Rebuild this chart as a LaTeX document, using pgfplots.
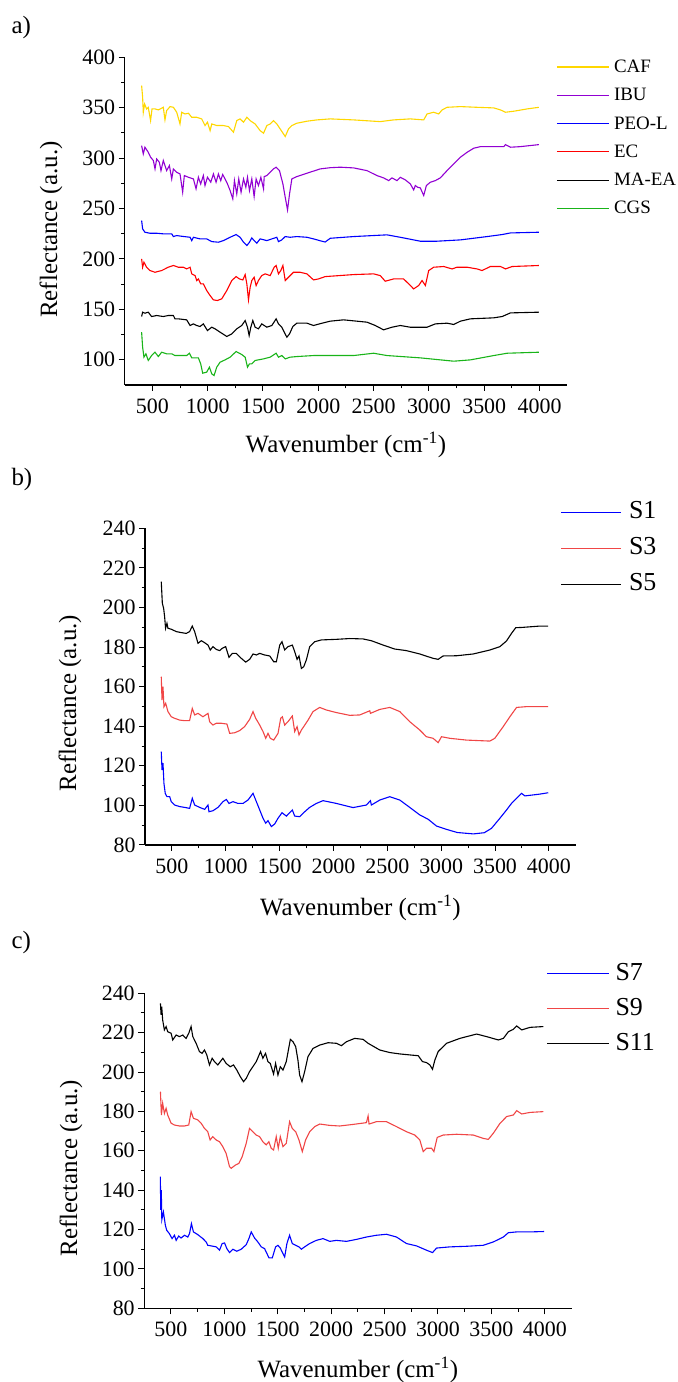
\documentclass[border=0pt]{standalone}
\usepackage{fontspec}
\setmainfont{Liberation Serif}
\usepackage{pgfplots}
\pgfplotsset{compat=1.18}
\definecolor{cafc}{RGB}{255,215,0}
\definecolor{ibuc}{RGB}{145,0,210}
\definecolor{peoc}{RGB}{0,0,255}
\definecolor{ecc}{RGB}{255,0,0}
\definecolor{cgsc}{RGB}{25,180,25}
\definecolor{lred}{RGB}{240,70,70}
\pgfplotsset{
  spec/.style={
    scale only axis,
    axis x line*=bottom, axis y line*=left,
    axis line style={-, line width=1.2bp, black},
    tick align=outside,
    tick style={black, line width=1bp},
    major tick length=6bp, minor tick length=3.5bp,
    xmin=250, xmax=4250, enlargelimits=false,
    xtick={500,1000,...,4000},
    minor x tick num=1, minor y tick num=1,
    tick label style={font=\fontsize{22}{22}\selectfont},
    xticklabel style={yshift=-4bp},
    /pgf/number format/assume math mode=true,
    /pgf/number format/1000 sep={},
    xlabel={Wavenumber (cm\textsuperscript{-1})},
    ylabel={Reflectance (a.u.)},
    label style={font=\fontsize{25}{25}\selectfont},
    legend cell align=left,
    every axis plot/.append style={line width=1.1bp},
  }
}
\begin{document}
\begin{tikzpicture}
\useasboundingbox (0,0) rectangle (678bp,1382bp);
\node[anchor=west, font=\fontsize{25}{25}\selectfont] at (8bp,1354bp) {a)};
\node[anchor=west, font=\fontsize{25}{25}\selectfont] at (8bp,902bp) {b)};
\node[anchor=west, font=\fontsize{25}{25}\selectfont] at (8bp,439.5bp) {c)};

% ---------------- panel a
\begin{axis}[spec, at={(124.7bp,997bp)}, anchor=south west,
  width=442.5bp, height=327.7bp, ymin=75, ymax=400,
  ytick={100,150,...,400},
  xlabel style={at={(axis description cs:0.5,-0.183)}, anchor=center},
  ylabel style={at={(axis description cs:-0.1666,0.474)}, anchor=center},
  legend style={at={(axis description cs:0.975,1.0)}, anchor=north west,
    draw=none, fill=none, inner sep=0pt, row sep=9.3bp, column sep=4.6bp,
    font=\fontsize{19}{19}\selectfont,
    nodes={inner sep=0pt, text height=15bp, text depth=4bp}},
  legend image code/.code={\draw[#1] (0bp,0bp) -- (52bp,0bp);},
]
\addplot[cafc] coordinates {(403,372.0)(412,360.4)(418,345.5)(430,353.7)(448,348.8)(463,350.4)(484,337.2)(497,348.8)(524,348.8)(554,347.8)(599,350.4)(614,337.9)(629,347.1)(660,351.1)(690,350.4)(720,345.5)(750,333.9)(765,345.5)(795,343.8)(826,344.5)(856,340.5)(901,340.5)(946,338.9)(976,332.3)(998,335.6)(1022,327.3)(1037,333.9)(1082,332.3)(1142,332.3)(1188,331.3)(1233,325.7)(1263,337.2)(1293,338.9)(1324,335.6)(1354,340.5)(1384,337.2)(1429,333.9)(1474,327.3)(1505,324.7)(1535,332.3)(1565,333.9)(1595,337.2)(1625,333.9)(1655,329.0)(1701,321.4)(1731,329.0)(1761,332.3)(1806,334.6)(1897,336.6)(1987,337.9)(2108,338.9)(2319,337.9)(2560,336.2)(2681,337.9)(2832,338.9)(2953,337.9)(2983,343.8)(3043,345.5)(3088,343.8)(3119,347.8)(3164,350.4)(3285,351.1)(3435,350.4)(3586,349.8)(3647,347.8)(3692,345.5)(3767,346.5)(3888,348.8)(3994,350.4)};
\addlegendentry{CAF}
\addplot[ibuc] coordinates {(403,312.4)(418,304.2)(433,310.8)(463,305.8)(484,300.9)(509,297.6)(524,289.3)(539,299.2)(563,295.9)(578,287.6)(599,297.6)(629,287.6)(654,292.6)(675,279.4)(690,289.3)(720,286.0)(750,284.3)(774,266.2)(789,282.7)(826,281.0)(871,279.4)(895,269.5)(916,281.0)(937,274.4)(961,282.7)(976,272.8)(998,281.0)(1028,276.1)(1052,284.3)(1076,276.1)(1097,284.3)(1118,277.7)(1136,283.7)(1157,279.4)(1179,274.4)(1203,267.8)(1227,259.6)(1242,277.7)(1263,264.5)(1281,279.4)(1302,266.2)(1324,279.4)(1345,271.1)(1360,281.0)(1378,267.8)(1399,279.4)(1420,261.9)(1438,279.4)(1459,272.8)(1481,281.0)(1505,269.5)(1511,281.7)(1535,282.7)(1565,286.0)(1595,289.3)(1619,291.0)(1649,287.6)(1680,274.4)(1701,261.2)(1722,248.6)(1740,264.5)(1761,279.4)(1806,281.7)(1897,285.0)(2017,289.3)(2108,290.5)(2198,291.0)(2319,290.3)(2440,287.6)(2530,282.7)(2590,280.4)(2636,277.7)(2666,280.4)(2711,277.7)(2741,281.0)(2787,278.4)(2832,274.4)(2862,268.5)(2877,272.8)(2898,271.1)(2922,270.5)(2953,262.9)(2977,272.8)(3013,276.1)(3058,277.7)(3103,280.4)(3164,287.6)(3224,294.3)(3285,300.9)(3345,305.8)(3405,309.8)(3466,311.4)(3586,311.4)(3677,311.4)(3692,313.4)(3737,310.8)(3828,311.4)(3994,313.4)};
\addlegendentry{IBU}
\addplot[peoc] coordinates {(403,238.1)(412,229.8)(433,226.5)(478,225.5)(539,225.5)(599,224.9)(675,224.9)(690,222.2)(720,223.2)(765,222.5)(841,221.5)(856,218.2)(871,221.5)(931,219.9)(991,219.9)(1037,217.2)(1097,216.6)(1142,218.2)(1203,221.5)(1257,224.2)(1293,221.5)(1324,216.6)(1354,213.3)(1378,216.6)(1399,220.9)(1420,218.2)(1444,215.6)(1474,219.9)(1535,218.2)(1580,219.9)(1625,221.5)(1640,217.2)(1670,218.9)(1701,222.2)(1746,221.5)(1806,222.2)(1897,221.5)(1957,219.9)(2032,217.6)(2062,216.8)(2108,220.5)(2319,222.2)(2621,223.9)(2741,221.5)(2922,217.6)(3073,217.6)(3285,218.9)(3526,222.2)(3662,224.2)(3737,225.8)(3994,226.5)};
\addlegendentry{PEO-L}
\addplot[ecc] coordinates {(403,200.1)(412,191.8)(424,196.8)(448,191.8)(478,188.5)(524,186.8)(584,188.5)(644,191.8)(690,193.5)(735,191.8)(780,191.8)(810,190.1)(841,191.8)(856,185.2)(886,183.5)(901,178.6)(916,180.2)(937,175.3)(961,175.3)(991,168.7)(1022,163.7)(1052,159.4)(1088,158.8)(1127,160.4)(1173,168.7)(1218,178.6)(1257,182.5)(1287,180.2)(1318,179.2)(1339,184.5)(1354,175.3)(1369,159.4)(1384,172.0)(1399,178.6)(1420,181.9)(1438,173.6)(1459,178.6)(1489,183.5)(1520,185.2)(1565,183.5)(1601,191.8)(1619,193.5)(1640,185.2)(1661,188.5)(1680,193.5)(1701,178.6)(1731,181.9)(1776,186.8)(1836,186.8)(1897,185.2)(1957,179.2)(2002,180.2)(2062,182.5)(2319,184.5)(2500,185.2)(2560,183.5)(2605,177.9)(2681,180.2)(2771,180.2)(2817,175.3)(2862,170.3)(2907,173.6)(2938,178.6)(2968,173.6)(2998,188.5)(3043,191.8)(3134,192.5)(3209,190.1)(3254,191.8)(3345,191.8)(3435,190.1)(3480,188.5)(3556,192.5)(3647,192.5)(3692,190.1)(3752,192.5)(3994,193.5)};
\addlegendentry{EC}
\addplot[black] coordinates {(403,142.9)(412,147.2)(433,146.2)(463,147.2)(493,142.9)(539,143.9)(599,142.9)(644,143.9)(690,143.9)(705,140.6)(735,140.6)(810,139.6)(841,134.0)(871,135.6)(901,134.0)(931,133.0)(961,135.6)(998,129.0)(1037,132.3)(1067,130.7)(1112,127.4)(1173,123.1)(1218,125.7)(1263,130.7)(1308,134.0)(1339,138.9)(1360,132.3)(1375,124.0)(1390,132.3)(1408,138.9)(1429,132.3)(1459,130.7)(1489,135.6)(1535,132.3)(1580,134.0)(1619,140.6)(1640,135.6)(1670,132.3)(1692,127.4)(1716,122.4)(1740,125.7)(1770,133.0)(1806,136.3)(1897,136.3)(1957,134.0)(2017,135.8)(2108,138.3)(2228,139.6)(2440,137.3)(2515,134.0)(2590,129.7)(2666,132.3)(2741,134.0)(2832,132.3)(2983,132.3)(3058,135.6)(3164,136.3)(3224,135.0)(3285,138.3)(3375,140.6)(3586,141.6)(3662,142.9)(3737,146.5)(3994,147.2)};
\addlegendentry{MA-EA}
\addplot[cgsc] coordinates {(403,127.4)(412,112.5)(424,102.6)(442,105.9)(463,99.3)(493,104.2)(524,107.5)(554,103.2)(584,107.5)(629,105.9)(675,105.9)(705,104.2)(810,104.2)(835,106.5)(856,101.9)(916,101.9)(937,96.0)(955,86.7)(991,87.7)(1016,92.7)(1037,86.0)(1058,84.4)(1082,92.7)(1112,97.6)(1157,99.9)(1203,102.6)(1257,108.2)(1308,105.2)(1339,102.6)(1360,92.7)(1378,96.0)(1399,96.0)(1429,99.3)(1505,100.9)(1565,102.6)(1619,106.5)(1640,102.6)(1670,104.2)(1701,100.9)(1746,102.6)(1806,103.2)(1957,104.2)(2108,104.2)(2319,104.2)(2500,106.5)(2621,104.2)(2922,101.9)(3224,98.6)(3375,99.9)(3586,104.2)(3707,106.5)(3994,107.5)};
\addlegendentry{CGS}
\end{axis}

% ---------------- panel b
\begin{axis}[spec, at={(145bp,537bp)}, anchor=south west,
  width=430.8bp, height=316.7bp, ymin=80, ymax=240,
  ytick={80,100,...,240},
  xlabel style={at={(axis description cs:0.5,-0.199)}, anchor=center},
  ylabel style={at={(axis description cs:-0.174,0.448)}, anchor=center},
  legend style={at={(axis description cs:0.965,1.089)}, anchor=north west,
    draw=none, fill=none, inner sep=0pt, row sep=12.5bp, column sep=7bp,
    font=\fontsize{26}{26}\selectfont,
    nodes={inner sep=0pt, text height=18.5bp, text depth=5bp}},
  legend image code/.code={\draw[#1] (0bp,0bp) -- (60bp,0bp);},
]
\addplot[peoc] coordinates {(401,127.2)(408,117.9)(417,121.3)(426,111.1)(438,106.1)(454,104.4)(479,104.4)(494,101.9)(525,100.2)(572,99.4)(618,99.0)(664,98.5)(689,103.6)(711,100.2)(757,99.0)(804,98.0)(835,100.2)(844,96.8)(881,97.3)(928,99.0)(974,101.9)(1005,103.0)(1030,101.0)(1067,101.9)(1113,101.0)(1160,101.0)(1206,102.7)(1253,106.1)(1284,101.9)(1315,97.7)(1346,93.5)(1371,91.0)(1392,92.3)(1423,89.3)(1454,90.6)(1485,93.5)(1522,96.3)(1563,94.6)(1618,97.7)(1640,94.6)(1687,94.3)(1733,96.8)(1779,99.0)(1841,101.0)(1903,102.4)(2027,101.0)(2182,98.9)(2306,100.2)(2343,102.4)(2352,100.2)(2430,102.7)(2523,104.4)(2616,102.7)(2708,99.0)(2801,95.2)(2879,93.0)(2956,89.6)(3049,87.9)(3150,86.3)(3300,85.6)(3400,86.2)(3467,88.4)(3545,93.5)(3607,97.7)(3653,101.0)(3700,103.6)(3746,106.1)(3777,104.8)(3916,105.7)(3994,106.4)};
\addlegendentry{S1}
\addplot[lred] coordinates {(401,165.0)(408,153.2)(417,160.0)(426,149.9)(442,151.6)(463,147.4)(494,144.8)(525,144.0)(572,143.1)(618,142.8)(664,142.8)(689,149.0)(711,145.7)(742,146.5)(788,144.8)(835,146.5)(850,142.3)(881,140.6)(912,141.5)(959,141.5)(1011,141.1)(1036,136.4)(1083,136.7)(1129,137.8)(1175,139.8)(1222,143.5)(1253,147.4)(1278,144.0)(1315,140.6)(1346,137.3)(1371,133.9)(1392,136.4)(1414,133.9)(1445,133.0)(1485,136.4)(1510,144.0)(1525,144.8)(1547,140.6)(1578,142.3)(1618,145.2)(1640,137.3)(1662,139.8)(1680,135.6)(1702,138.1)(1724,139.8)(1764,143.1)(1810,147.4)(1872,149.5)(1934,148.2)(2027,146.9)(2151,145.5)(2244,145.7)(2337,147.8)(2343,146.5)(2430,148.5)(2523,149.5)(2616,147.4)(2708,142.3)(2801,138.1)(2863,134.7)(2925,133.9)(2972,131.7)(3003,134.7)(3080,133.9)(3235,133.0)(3452,132.5)(3498,133.9)(3576,139.8)(3638,144.8)(3700,149.5)(3792,149.9)(3994,149.9)};
\addlegendentry{S3}
\addplot[black] coordinates {(401,213.0)(411,202.1)(423,199.6)(432,195.4)(441,189.5)(454,192.0)(463,189.5)(494,189.0)(541,187.8)(587,187.3)(633,186.9)(664,187.8)(689,190.6)(711,187.8)(742,181.9)(773,183.2)(804,182.2)(835,181.0)(856,178.5)(881,180.2)(912,178.8)(943,178.2)(968,179.4)(999,180.2)(1030,174.8)(1061,176.8)(1098,176.8)(1144,174.3)(1185,172.4)(1222,173.8)(1253,176.5)(1284,176.0)(1315,176.8)(1361,176.0)(1408,175.5)(1445,172.6)(1470,172.6)(1501,181.0)(1522,182.7)(1547,178.5)(1578,180.2)(1618,181.0)(1640,177.7)(1662,173.8)(1680,175.5)(1702,169.2)(1724,170.1)(1748,173.5)(1779,180.2)(1826,182.7)(1888,183.6)(2027,183.9)(2151,184.3)(2275,184.1)(2352,183.2)(2461,181.0)(2569,179.0)(2677,178.2)(2801,176.5)(2925,174.3)(2972,173.8)(3018,175.5)(3142,175.6)(3297,176.5)(3452,178.5)(3545,180.2)(3607,183.1)(3653,186.9)(3693,189.8)(3746,189.9)(3916,190.6)(3994,190.6)};
\addlegendentry{S5}
\end{axis}

% ---------------- panel c
\begin{axis}[spec, at={(144.2bp,73.7bp)}, anchor=south west,
  width=427.3bp, height=315bp, ymin=80, ymax=240,
  ytick={80,100,...,240},
  xlabel style={at={(axis description cs:0.5,-0.196)}, anchor=center},
  ylabel style={at={(axis description cs:-0.171,0.445)}, anchor=center},
  legend style={at={(axis description cs:0.941,1.101)}, anchor=north west,
    draw=none, fill=none, inner sep=0pt, row sep=11.7bp, column sep=6bp,
    font=\fontsize{26}{26}\selectfont,
    nodes={inner sep=0pt, text height=18.5bp, text depth=5bp}},
  legend image code/.code={\draw[#1] (0bp,0bp) -- (62bp,0bp);},
]
\addplot[peoc] coordinates {(401,146.9)(405,130.0)(410,140.0)(415,125.0)(430,128.9)(448,122.2)(461,119.6)(486,117.9)(511,115.4)(533,117.1)(549,114.5)(573,116.7)(595,115.7)(627,117.1)(658,116.2)(674,117.9)(692,123.0)(711,118.8)(752,117.4)(799,115.4)(830,113.7)(845,112.0)(877,111.7)(924,111.2)(955,109.5)(980,112.9)(1002,113.2)(1024,110.3)(1049,108.3)(1080,110.0)(1117,109.0)(1158,110.0)(1205,112.3)(1230,115.4)(1252,118.8)(1283,115.7)(1314,113.7)(1346,111.2)(1377,110.3)(1399,107.8)(1418,105.6)(1449,105.6)(1480,111.2)(1502,112.0)(1524,110.6)(1549,107.8)(1565,106.1)(1586,112.9)(1611,117.1)(1636,112.9)(1668,112.0)(1699,111.2)(1721,110.0)(1752,111.2)(1799,112.9)(1861,114.5)(1924,115.4)(1987,114.0)(2049,114.5)(2143,114.0)(2237,115.0)(2330,116.2)(2424,117.1)(2518,117.6)(2612,116.2)(2705,112.9)(2799,111.7)(2893,109.5)(2949,108.3)(2987,110.6)(3112,111.2)(3268,111.5)(3424,112.0)(3518,113.7)(3612,116.2)(3659,118.4)(3737,118.8)(3862,118.8)(3994,119.0)};
\addlegendentry{S7}
\addplot[lred] coordinates {(402,190.0)(411,178.2)(423,184.1)(439,179.0)(455,181.6)(470,178.2)(502,174.0)(533,173.1)(580,172.6)(627,172.6)(667,173.1)(689,179.9)(711,176.5)(752,175.7)(783,174.0)(814,171.4)(845,169.7)(867,165.5)(892,167.2)(924,165.5)(955,164.6)(986,162.1)(1017,158.7)(1049,151.9)(1064,151.1)(1105,152.8)(1136,153.6)(1167,157.0)(1205,163.8)(1236,171.4)(1267,169.7)(1299,168.0)(1330,167.2)(1361,164.6)(1392,163.0)(1417,164.6)(1439,161.3)(1461,160.4)(1486,167.2)(1505,161.3)(1524,167.2)(1549,162.1)(1580,163.8)(1611,174.8)(1636,171.4)(1668,169.7)(1699,165.5)(1730,159.6)(1761,165.5)(1799,169.7)(1846,172.3)(1893,173.6)(1987,172.9)(2080,172.6)(2205,173.4)(2330,174.3)(2346,177.7)(2355,173.6)(2424,174.8)(2518,174.8)(2611,172.3)(2705,169.7)(2783,168.0)(2830,165.5)(2862,159.6)(2893,161.3)(2940,161.3)(2962,159.6)(2993,166.8)(3049,168.0)(3174,168.4)(3330,168.0)(3424,166.3)(3471,165.8)(3518,168.9)(3580,173.9)(3643,177.4)(3706,178.2)(3737,180.4)(3784,178.7)(3862,179.5)(3987,179.9)};
\addlegendentry{S9}
\addplot[black] coordinates {(402,234.9)(408,229.0)(414,233.2)(423,226.4)(439,221.4)(455,223.1)(470,220.5)(502,219.7)(517,216.3)(549,218.8)(580,218.0)(611,218.8)(642,217.1)(667,219.7)(689,223.1)(705,218.0)(736,214.6)(767,210.4)(792,209.5)(814,211.2)(836,208.7)(861,203.6)(886,207.0)(908,205.3)(939,203.6)(986,207.0)(1017,204.4)(1055,202.7)(1086,203.6)(1117,201.0)(1149,197.7)(1180,195.1)(1205,196.8)(1236,200.2)(1267,202.7)(1299,205.3)(1339,210.4)(1361,207.0)(1386,209.5)(1408,205.3)(1430,204.4)(1461,199.0)(1480,204.4)(1502,198.5)(1524,202.7)(1549,201.0)(1580,205.3)(1618,216.6)(1643,215.4)(1668,212.9)(1689,206.1)(1705,198.5)(1727,195.1)(1752,200.2)(1783,207.8)(1830,212.0)(1893,213.7)(1971,214.9)(2049,214.6)(2096,213.4)(2143,215.4)(2221,217.1)(2299,216.6)(2346,214.6)(2455,211.2)(2549,209.9)(2643,209.2)(2736,208.7)(2815,208.3)(2855,205.3)(2893,204.8)(2924,203.6)(2949,201.4)(2971,206.1)(3002,210.4)(3080,214.6)(3205,217.1)(3362,219.3)(3455,218.0)(3565,216.3)(3612,217.1)(3659,220.5)(3706,221.7)(3737,223.4)(3784,221.4)(3862,222.7)(3987,223.1)};
\addlegendentry{S11}
\end{axis}
\end{tikzpicture}
\end{document}
